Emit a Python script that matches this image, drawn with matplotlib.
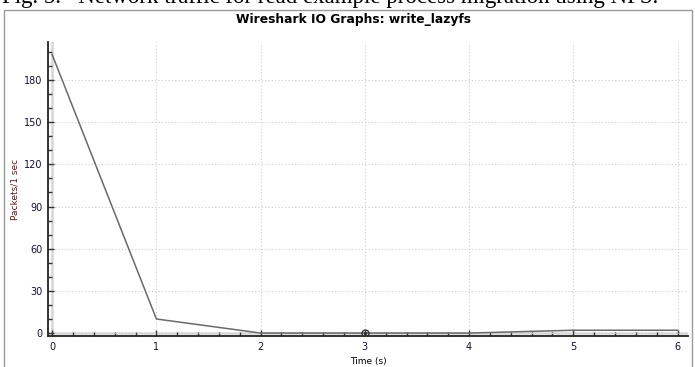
import matplotlib
matplotlib.use('Agg')
import matplotlib.pyplot as plt
from matplotlib.patches import Rectangle
from matplotlib.ticker import MultipleLocator

# data
time_s = [0, 1, 2, 3, 4, 5, 6]
packets = [198, 10, 0, 0, 0, 2, 2]
x_ticks = [0, 1, 2, 3, 4, 5, 6]
y_ticks = [0, 30, 60, 90, 120, 150, 180]
marker_x = [3]
marker_y = [0]

fig = plt.figure(figsize=(6.95, 3.67), dpi=100)
fig.patch.set_facecolor('white')

# caption of the paper, cut at the top of the image
fig.text(0.003, 1 - 2.5 / 367, 'Fig. 5.   Network traffic for read example process migration using NFS.',
         family='Liberation Serif', fontsize=16.5, ha='left', va='baseline', color='black')

# grey frame of the Wireshark window
fig.patches.append(Rectangle((4 / 695, -0.05), 688 / 695, 1 - 10 / 367 + 0.05,
                             transform=fig.transFigure, fill=False,
                             edgecolor='#9a9a9a', linewidth=1.0))

fig.text(353 / 695, 1 - 19 / 367, 'Wireshark IO Graphs: write_lazyfs',
         family='DejaVu Sans', fontweight='bold',
         fontsize=8.8, ha='center', va='center')

ax = fig.add_axes([48 / 695, 1 - 336 / 367, (688 - 48) / 695, (336 - 42) / 367])
ax.set_facecolor('white')
ax.set_xlim(-0.04, 6.1)
ax.set_ylim(-2.1, 207)

for s in ['top', 'right']:
    ax.spines[s].set_visible(False)
for s in ['left', 'bottom']:
    ax.spines[s].set_color('#222222')
    ax.spines[s].set_linewidth(1.3)

ax.set_xticks(x_ticks)
ax.set_yticks(y_ticks)
ax.xaxis.set_minor_locator(MultipleLocator(0.2))
ax.yaxis.set_minor_locator(MultipleLocator(10))
ax.tick_params(which='both', direction='in', color='#333333', width=1.0)
ax.tick_params(which='major', length=4, labelsize=7, labelcolor='#101030', pad=4)
ax.tick_params(which='minor', length=3)

ax.grid(True, which='major', linestyle=(0, (1, 2)), color='#cccccc', linewidth=0.8)
ax.axhline(0, color='#dddddd', linewidth=2, zorder=1)
ax.axvline(0, color='#dddddd', linewidth=2, zorder=1)

ax.plot(time_s, packets, color='#6a6a6a', linewidth=1.1, zorder=3)
ax.plot(marker_x, marker_y, 'o', markersize=5, markerfacecolor='none',
        markeredgecolor='#333333', markeredgewidth=1.0, zorder=4)
ax.plot(marker_x, marker_y, 'o', markersize=1.5, color='#333333', zorder=4)

ax.set_xlabel('Time (s)', fontsize=6.5, labelpad=4)
ax.set_ylabel('Packets/1 sec', fontsize=6.5, color='#5a1a1a', labelpad=3)

fig.savefig('out.png', dpi=100)
